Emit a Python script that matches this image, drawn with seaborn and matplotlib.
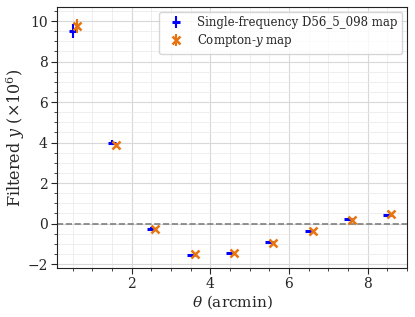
import matplotlib
matplotlib.use('Agg')
import matplotlib.pyplot as plt
from matplotlib.ticker import MultipleLocator
import seaborn as sns
import numpy as np

# values
theta = [0.5, 1.5, 2.5, 3.5, 4.5, 5.5, 6.5, 7.5, 8.5]
theta_offset = 0.1
y_single = [9.5, 3.99, -0.25, -1.56, -1.43, -0.9, -0.38, 0.21, 0.44]
err_single = [0.35, 0.12, 0.06, 0.04, 0.05, 0.05, 0.05, 0.05, 0.05]
y_compton = [9.75, 3.89, -0.28, -1.5, -1.45, -0.94, -0.35, 0.18, 0.46]
err_compton = [0.36, 0.1, 0.05, 0.05, 0.05, 0.05, 0.05, 0.05, 0.05]

sns.set_style('ticks')
plt.rcParams['font.family'] = ['DejaVu Serif']
plt.rcParams['mathtext.fontset'] = 'dejavuserif'

fig, ax = plt.subplots(figsize=(4.15, 3.17), dpi=100)
fig.subplots_adjust(left=0.137, right=0.981, top=0.978, bottom=0.155)

ax.errorbar(theta, y_single, yerr=err_single, fmt='_', color='blue',
            markersize=6, markeredgewidth=2.2, elinewidth=1.5,
            label='Single-frequency D56_5_098 map', zorder=3)
ax.errorbar(np.array(theta) + theta_offset, y_compton, yerr=err_compton,
            fmt='x', color='#e8740f', markersize=6, markeredgewidth=1.8,
            elinewidth=1.5, label=r'Compton-$y$ map', zorder=4)
ax.axhline(0, color='gray', linestyle='--', linewidth=1.2, zorder=2)

ax.xaxis.set_minor_locator(MultipleLocator(0.5))
ax.yaxis.set_minor_locator(MultipleLocator(0.5))
ax.grid(which='major', color='#d8d8d8', linewidth=0.8)
ax.grid(which='minor', color='#ebebeb', linewidth=0.6)
ax.set_axisbelow(True)
ax.tick_params(which='major', labelsize=10, length=4, pad=2.5)
ax.tick_params(which='minor', length=2)
for s in ax.spines.values():
    s.set_color('#222222')

ax.set_xlabel(r'$\theta$ (arcmin)', fontsize=11, labelpad=2)
ax.set_ylabel(r'Filtered $y$ ($\times 10^6$)', fontsize=11.5, labelpad=0)
ax.legend(loc='upper right', fontsize=8.5, frameon=True, handletextpad=0.8,
          labelspacing=0.25, borderaxespad=0.4)

fig.savefig('out.png', dpi=100)
